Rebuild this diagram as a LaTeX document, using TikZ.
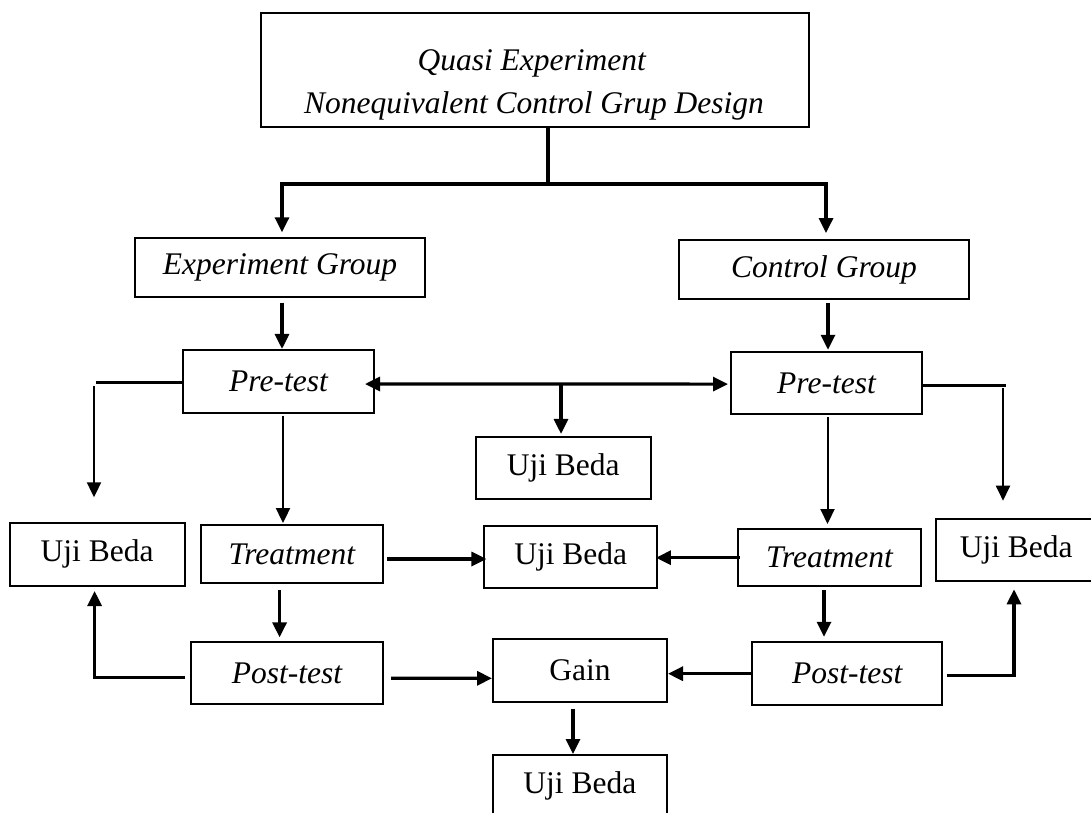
\documentclass[tikz,border=0pt]{standalone}
\usepackage{fontspec}
\setmainfont{Liberation Serif}
\usetikzlibrary{arrows.meta,calc}
\begin{document}
\begin{tikzpicture}[x=1pt,y=-1pt,
  txt/.style={font=\fontsize{31.5}{38}\selectfont},
  box/.style={draw, line width=2pt, inner sep=0pt, txt},
  tip/.style={-{Triangle[length=15pt,width=14pt]}},
  arr/.style={line width=3.2pt, tip},
  tarr/.style={line width=2pt, tip},
  kline/.style={line width=3.2pt},
  tline/.style={line width=2pt}]
\clip (0,0) rectangle (1091,812);
\fill[white] (0,0) rectangle (1091,812);
% nodes
\node[box, minimum width=548pt, minimum height=114.6pt] (top) at (535,70) {};
\node[txt, anchor=base, font=\fontsize{31.5}{38}\selectfont\itshape] (t1) at (531.7,70) {Quasi Experiment};
\node[txt, anchor=base, font=\fontsize{31.5}{38}\selectfont\itshape] (t2) at (534,113.5) {Nonequivalent Control Grup Design};
\node[box, minimum width=290pt, minimum height=58.4pt] (expg) at (280,267.5) {\itshape Experiment Group};
\node[box, minimum width=290pt, minimum height=59.3pt] (ctlg) at (824,269.7) {\itshape Control Group};
\node[box, minimum width=191pt, minimum height=62.7pt] (preL) at (278.5,381.3) {\itshape Pre-test};
\node[box, minimum width=191pt, minimum height=61.7pt] (preR) at (826.5,383.2) {\itshape Pre-test};
\node[box, minimum width=175pt, minimum height=62.5pt] (ujiM1) at (563.2,468.2) {Uji Beda};
\node[box, minimum width=175pt, minimum height=63pt] (ujiL) at (97.1,554.2) {Uji Beda};
\node[box, minimum width=182.3pt, minimum height=58.3pt] (treatL) at (291.9,554.2) {\itshape Treatment};
\node[box, minimum width=173.5pt, minimum height=62.6pt] (ujiM2) at (570.7,557) {Uji Beda};
\node[box, minimum width=183pt, minimum height=56.4pt] (treatR) at (829.5,557.5) {\itshape Treatment};
\node[box, minimum width=161pt, minimum height=62pt] (ujiR) at (1016.2,550) {Uji Beda};
\node[box, minimum width=192pt, minimum height=62.3pt] (postL) at (287,672.9) {\itshape Post-test};
\node[box, minimum width=174pt, minimum height=62.7pt] (gain) at (580,670.3) {Gain};
\node[box, minimum width=190.5pt, minimum height=62.7pt] (postR) at (847.2,673.7) {\itshape Post-test};
\node[box, minimum width=173.7pt, minimum height=62pt] (ujiB) at (579.9,786) {Uji Beda};
% top split
\coordinate (split) at (548,184);
\coordinate (tops) at ($(top.south)+(13,0)$);
\draw[kline] (tops) -- (split);
\coordinate (eN) at ($(expg.north)+(2,0)$);
\coordinate (cN) at ($(ctlg.north)+(2,0)$);
\draw[arr, shorten >=5pt] (split) -| (eN);
\draw[arr, shorten >=6pt] (split) -| (cN);
% groups to pre-tests
\coordinate (eS) at ($(expg.south)+(2,5)$);
\draw[arr] (eS) -- (eS |- preL.north);
\coordinate (cS) at ($(ctlg.south)+(4,2.4)$);
\draw[arr, shorten >=1.6pt] (cS) -- (cS |- preR.north);
% pre-test double arrow and middle test
\coordinate (dL) at ($(preL.east)+(-10,2.7)$);
\coordinate (dR) at ($(preR.west)+(-2,0.9)$);
\draw[kline, {Triangle[length=15pt,width=14pt]}-{Triangle[length=15pt,width=14pt]}] (dL) -- (dR);
\coordinate (mdown) at (561,384);
\draw[arr, shorten >=2pt] (mdown) -- (mdown |- ujiM1.north);
% left branch from pre-test
\coordinate (pLw) at ($(preL.west)+(0,1.4)$);
\coordinate (lc) at (96,382.7);
\draw[kline] (pLw) -- (lc);
\coordinate (lv) at (94,386);
\draw[tarr, shorten >=24.4pt] (lv) -- (lv |- ujiL.north);
% right branch from pre-test
\coordinate (pRe) at ($(preR.east)+(0,2.1)$);
\coordinate (rc) at (1006,385.3);
\draw[kline] (pRe) -- (rc);
\coordinate (rv) at (1003,388);
\draw[tarr, shorten >=17.3pt] (rv) -- (rv |- ujiR.north);
% pre-tests to treatments
\coordinate (pLs) at ($(preL.south)+(4.5,2)$);
\draw[tarr, shorten >=1pt] (pLs) -- (pLs |- treatL.north);
\coordinate (pRs) at ($(preR.south)+(1,2)$);
\draw[tarr, shorten >=4.3pt] (pRs) -- (pRs |- treatR.north);
% treatments to middle test
\draw[arr] ($(treatL.east)+(3,4.8)$) -- ($(ujiM2.west)+(3.5,2)$);
\draw[arr] ($(treatR.west)+(2.7,0.2)$) -- ($(ujiM2.east)+(-2.5,0.7)$);
% treatments to post-tests
\coordinate (tLs) at ($(treatL.south)+(-12.3,6)$);
\draw[arr, shorten >=3.4pt] (tLs) -- (tLs |- postL.north);
\coordinate (tRs) at ($(treatR.south)+(-5.5,3.3)$);
\draw[arr, shorten >=4.6pt] (tRs) -- (tRs |- postR.north);
% post-tests to side tests
\draw[arr] ($(postL.west)+(-5,4.4)$) -| ($(ujiL.south)+(-2.5,4.3)$);
\draw[arr] ($(postR.east)+(3.5,2)$) -| ($(ujiR.south)+(-2.2,7.3)$);
% post-tests to gain
\draw[arr] ($(postL.east)+(7,5.4)$) -- ($(gain.west)+(0,8)$);
\draw[arr] (postR.west) -- ($(gain.east)+(0,3.4)$);
% gain to final test
\coordinate (gS) at ($(gain.south)+(-7,6.3)$);
\draw[arr] (gS) -- (gS |- ujiB.north);
\end{tikzpicture}
\end{document}
